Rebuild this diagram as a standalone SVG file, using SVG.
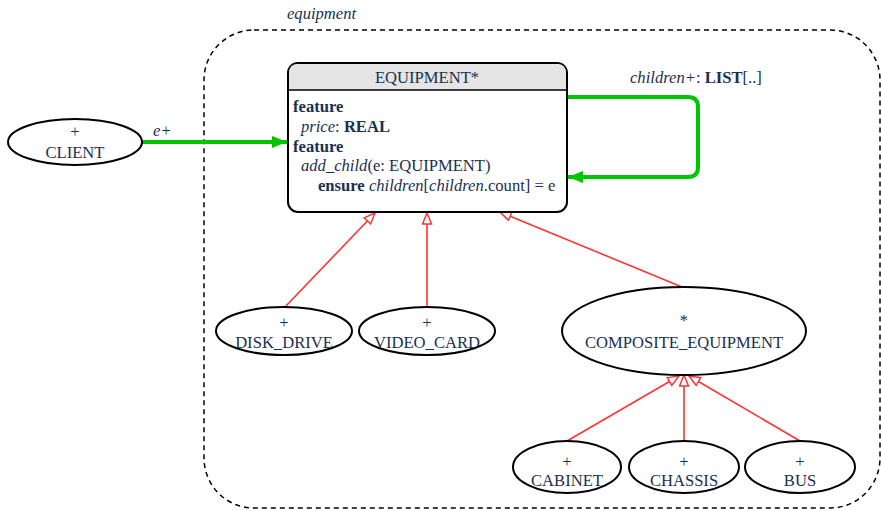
<svg xmlns="http://www.w3.org/2000/svg" width="881" height="511" viewBox="0 0 881 511">
<style>
text{font-family:"Liberation Serif","Times New Roman",serif;font-size:16.6px;fill:#1a3050}
.c{text-anchor:middle}
.b{font-weight:bold}
.i{font-style:italic}
.node{fill:#fff;stroke:#000;stroke-width:2}
.inh{stroke:#ff3333;stroke-width:1.6;fill:none}
.cli{stroke:#00c400;stroke-width:4;fill:none}
</style>
<defs>
<marker id="tri" markerUnits="userSpaceOnUse" markerWidth="14" markerHeight="12" refX="12" refY="5.5" orient="auto">
<path d="M1,1 L12,5.5 L1,10 z" fill="#fff" stroke="#ff3333" stroke-width="1.5"/>
</marker>
<marker id="arr" markerUnits="userSpaceOnUse" markerWidth="16" markerHeight="14" refX="15" refY="6" orient="auto">
<path d="M0,0 L15,6 L0,12 z" fill="#00c400"/>
</marker>
</defs>
<g id="cluster">
<rect x="204" y="30" width="676" height="478" rx="50" ry="50" fill="none" stroke="#000" stroke-width="1.5" stroke-dasharray="5,4"/>
<text x="287" y="19" class="i">equipment</text>
</g>
<g id="connectors">
<path class="cli" d="M142,142 H287" marker-end="url(#arr)"/>
<text x="153" y="136" class="i">e+</text>
<path class="cli" d="M567,97 H688 Q698,97 698,107 V167 Q698,177 688,177 H568" marker-end="url(#arr)"/>
<text x="630" y="83"><tspan class="i">children+</tspan>: <tspan class="b">LIST</tspan>[..]</text>
<path class="inh" d="M285,307 L375,213" marker-end="url(#tri)"/>
<path class="inh" d="M427,307 L427,213" marker-end="url(#tri)"/>
<path class="inh" d="M682,287 L500,212" marker-end="url(#tri)"/>
<path class="inh" d="M567,441 L679,376" marker-end="url(#tri)"/>
<path class="inh" d="M684,441 L684,375" marker-end="url(#tri)"/>
<path class="inh" d="M800,441 L689,376" marker-end="url(#tri)"/>
</g>
<g id="EQUIPMENT">
<rect x="288" y="63" width="279" height="149" rx="10" ry="10" fill="#fff" stroke="#000" stroke-width="2"/>
<path d="M289,90 V73 Q289,64 298,64 H557 Q566,64 566,73 V90 z" fill="#e5e5e5"/>
<line x1="288" y1="90" x2="567" y2="90" stroke="#000" stroke-width="1.5"/>
<text x="427" y="83" class="c">EQUIPMENT*</text>
<text x="293" y="112" class="b">feature</text>
<text x="301" y="132"><tspan class="i">price</tspan>: <tspan class="b">REAL</tspan></text>
<text x="293" y="152" class="b">feature</text>
<text x="301" y="171"><tspan class="i">add_child</tspan>(e: EQUIPMENT)</text>
<text x="318" y="191"><tspan class="b">ensure</tspan> <tspan class="i">children</tspan>[<tspan class="i">children</tspan>.count] = e</text>
</g>
<g id="CLIENT">
<ellipse class="node" cx="75" cy="142" rx="67" ry="23"/>
<text x="75" y="137" class="c">+</text>
<text x="75" y="158" class="c">CLIENT</text>
</g>
<g id="DISK_DRIVE">
<ellipse class="node" cx="284" cy="331" rx="68" ry="24"/>
<text x="284" y="328" class="c">+</text>
<text x="284" y="348" class="c">DISK_DRIVE</text>
</g>
<g id="VIDEO_CARD">
<ellipse class="node" cx="427" cy="331" rx="68" ry="24"/>
<text x="427" y="328" class="c">+</text>
<text x="427" y="348" class="c">VIDEO_CARD</text>
</g>
<g id="COMPOSITE_EQUIPMENT">
<ellipse class="node" cx="684" cy="331" rx="122" ry="44"/>
<text x="684" y="326" class="c">*</text>
<text x="684" y="348" class="c">COMPOSITE_EQUIPMENT</text>
</g>
<g id="CABINET">
<ellipse class="node" cx="567" cy="467" rx="54" ry="26"/>
<text x="567" y="467" class="c">+</text>
<text x="567" y="486" class="c">CABINET</text>
</g>
<g id="CHASSIS">
<ellipse class="node" cx="684" cy="467" rx="55" ry="26"/>
<text x="684" y="467" class="c">+</text>
<text x="684" y="486" class="c">CHASSIS</text>
</g>
<g id="BUS">
<ellipse class="node" cx="800" cy="467" rx="55" ry="26"/>
<text x="800" y="467" class="c">+</text>
<text x="800" y="486" class="c">BUS</text>
</g>
</svg>
